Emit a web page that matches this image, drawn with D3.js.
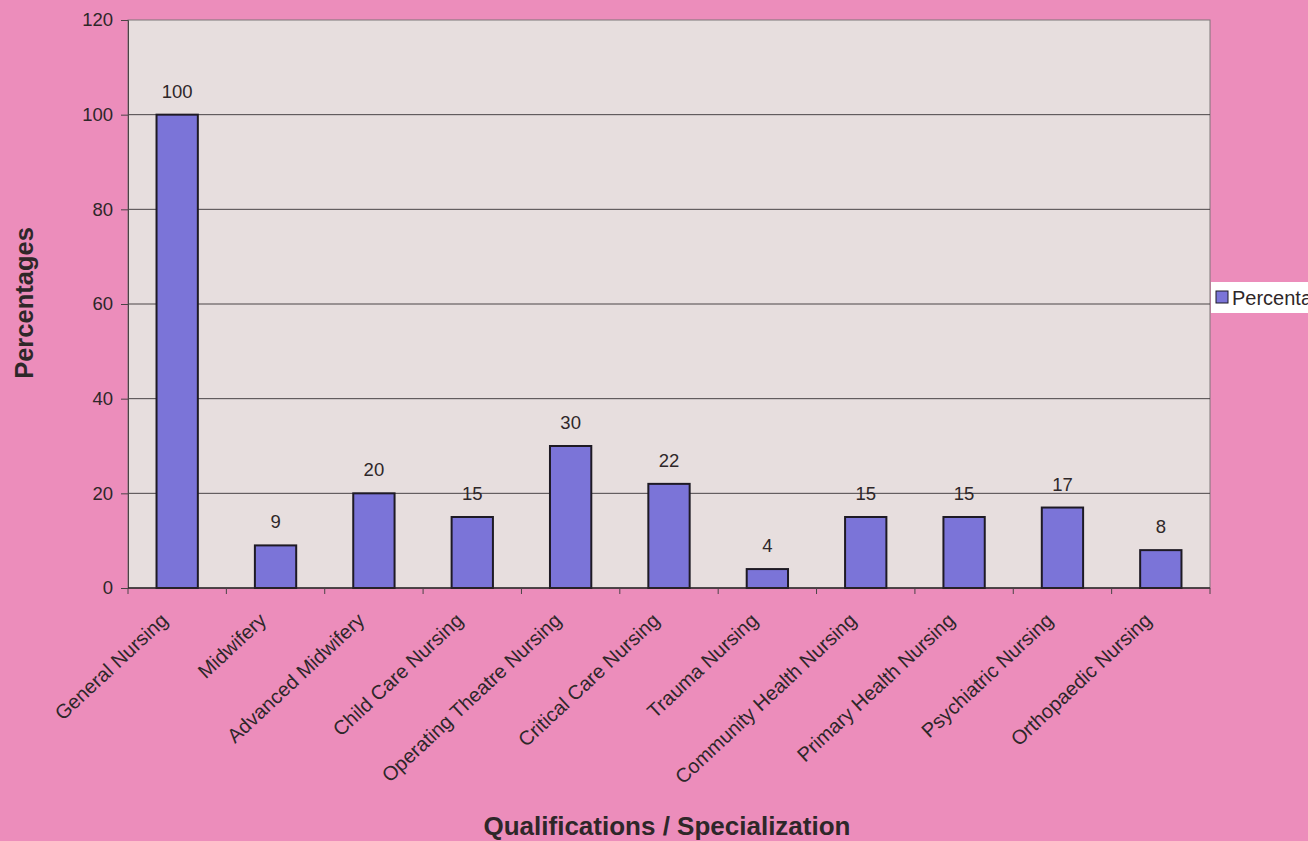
<!DOCTYPE html>
<html><head><meta charset="utf-8">
<script src="https://cdn.jsdelivr.net/npm/d3@7"></script>
<style>
html,body{margin:0;padding:0;background:#ec8dbb;overflow:hidden;}
text{font-family:"Liberation Sans",Arial,sans-serif;fill:#2e2729;}
</style></head>
<body>
<svg id="c" width="1308" height="841"></svg>
<script>
const categories = ["General Nursing","Midwifery","Advanced Midwifery","Child Care Nursing","Operating Theatre Nursing","Critical Care Nursing","Trauma Nursing","Community Health Nursing","Primary Health Nursing","Psychiatric Nursing","Orthopaedic Nursing"];
const values = [100, 9, 20, 15, 30, 22, 4, 15, 15, 17, 8];
const yTicks = [0, 20, 40, 60, 80, 100, 120];
const seriesName = "Percentages";

const svg = d3.select("#c");
const L = 128, R = 1210, T = 20, B = 588;
const x = d3.scaleBand().domain(categories).range([L, R]).paddingInner(0.58).paddingOuter(0.29);
const y = d3.scaleLinear().domain([0, 120]).range([B, T]);

svg.append("rect").attr("width",1308).attr("height",841).attr("fill","#ec8dbb");
svg.append("rect").attr("x",L).attr("y",T).attr("width",R-L).attr("height",B-T)
  .attr("fill","#e7dede").attr("stroke","#7d7678").attr("stroke-width",1);

// gridlines
svg.append("g").selectAll("line").data(yTicks.filter(d=>d>0 && d<120)).join("line")
  .attr("x1",L).attr("x2",R).attr("y1",d=>y(d)).attr("y2",d=>y(d))
  .attr("stroke","#4a4446").attr("stroke-width",1);

// y axis
const yAxis = d3.axisLeft(y).tickValues(yTicks).tickSize(7).tickPadding(8);
const gy = svg.append("g").attr("transform",`translate(${L},0)`).call(yAxis);
gy.select(".domain").attr("stroke","#4a4446");
gy.selectAll(".tick line").attr("stroke","#4a4446");
gy.selectAll(".tick text").attr("font-size",18.5).attr("fill","#2e2729").attr("font-family","Liberation Sans, Arial, sans-serif");

// bars
svg.append("g").selectAll("rect").data(values).join("rect")
  .attr("x",(d,i)=>x(categories[i])).attr("width",x.bandwidth())
  .attr("y",d=>y(d)).attr("height",d=>B-y(d))
  .attr("fill","#7b74d8").attr("stroke","#1e1a24").attr("stroke-width",2);

// value labels
svg.append("g").selectAll("text").data(values).join("text")
  .attr("x",(d,i)=>x(categories[i])+x.bandwidth()/2).attr("y",d=>y(d)-17)
  .attr("text-anchor","middle").attr("font-size",18.5).text(d=>d3.format(".0f")(d));

// x axis
const xb = d3.scaleLinear().domain([0, categories.length]).range([L, R]);
const gx = svg.append("g");
gx.append("line").attr("x1",L).attr("x2",R).attr("y1",B).attr("y2",B).attr("stroke","#2b2628").attr("stroke-width",1.5);
gx.selectAll("line.tk").data(d3.range(categories.length+1)).join("line").attr("class","tk")
  .attr("x1",d=>xb(d)).attr("x2",d=>xb(d)).attr("y1",B).attr("y2",B+6).attr("stroke","#4a4446");
gx.selectAll("text").data(categories).join("text")
  .attr("transform",d=>`translate(${x(d)+x.bandwidth()/2-8},${B+34}) rotate(-43)`)
  .attr("text-anchor","end").attr("font-size",20).text(d=>d);

// axis titles
svg.append("text").attr("transform",`translate(33,${303}) rotate(-90)`)
  .attr("text-anchor","middle").attr("font-size",25.5).attr("font-weight","bold").text("Percentages");
svg.append("text").attr("x",667).attr("y",835).attr("text-anchor","middle")
  .attr("font-size",26).attr("font-weight","bold").text("Qualifications / Specialization");

// legend
const lg = svg.append("g");
lg.append("rect").attr("x",1211).attr("y",282).attr("width",110).attr("height",31).attr("fill","#ffffff");
lg.append("rect").attr("x",1216).attr("y",291).attr("width",12).attr("height",12).attr("fill","#7b74d8").attr("stroke","#1e1a24").attr("stroke-width",1);
lg.append("text").attr("x",1232).attr("y",305).attr("font-size",20).text(seriesName);
</script>
</body></html>
